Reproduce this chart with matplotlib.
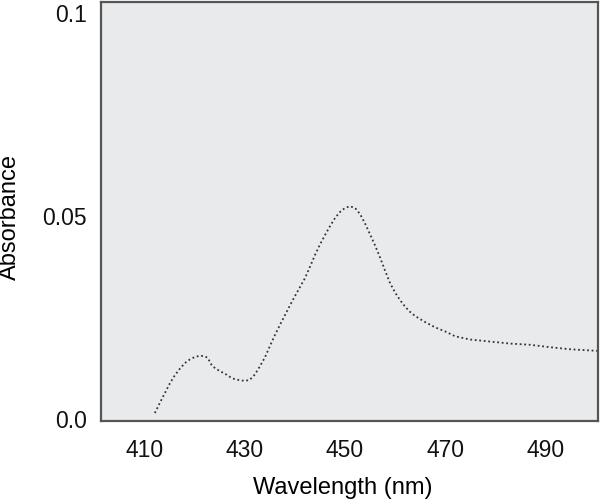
import numpy as np
import matplotlib
matplotlib.use("Agg")
import matplotlib.pyplot as plt

plt.rcParams["font.family"] = ["Liberation Sans", "DejaVu Sans"]

# spectrum (nm, absorbance)
wavelength = [412, 413, 414, 415, 416, 417, 418, 419, 420, 421, 422, 422.6, 423.4, 424,
              425, 426, 427, 428, 429, 430, 431, 432, 433, 434, 435, 436, 437, 438,
              439, 440, 441, 442, 443, 444, 445, 446, 447, 448, 449, 450, 451, 452,
              453, 454, 455, 456, 457, 458, 459, 460, 461, 462, 463, 464, 466, 468,
              470, 472, 475, 479, 483, 487, 491, 495, 500.5]
absorbance = [0.0015, 0.0040, 0.0064, 0.0088, 0.0108, 0.0124, 0.0138, 0.0147, 0.0153, 0.0156,
              0.0155, 0.0150, 0.0132, 0.0126, 0.0118, 0.0112, 0.0104, 0.0098, 0.0096, 0.0094,
              0.0097, 0.0110, 0.0130, 0.0152, 0.0180, 0.0207, 0.0232, 0.0256, 0.0280,
              0.0303, 0.0325, 0.0347, 0.0375, 0.0404, 0.0430, 0.0453, 0.0475, 0.0495,
              0.0510, 0.0520, 0.0524, 0.0520, 0.0505, 0.0482, 0.0455, 0.0428, 0.0398,
              0.0366, 0.0335, 0.0312, 0.0293, 0.0277, 0.0264, 0.0254, 0.0239, 0.0226,
              0.0216, 0.0204, 0.0196, 0.0191, 0.0186, 0.0183, 0.0177, 0.0172, 0.0168]

x_ticks = [410, 430, 450, 470, 490]
y_ticks = [0.0, 0.05, 0.1]
y_tick_labels = ["0.0", "0.05", "0.1"]

fig = plt.figure(figsize=(6.0, 4.99), dpi=100)
ax = fig.add_axes([0.168, 0.156, 0.829, 0.840])
ax.set_facecolor("#e9eaec")

ax.plot(wavelength, absorbance, linestyle=(0, (1, 1.5)), color="#333333", linewidth=1.3)

ax.set_xlim(401.2, 500.6)
ax.set_ylim(-0.0005, 0.1027)
ax.set_xticks(x_ticks)
ax.set_yticks(y_ticks)
ax.set_yticklabels(y_tick_labels)
ax.tick_params(length=0, labelsize=16.5, colors="#111111")
ax.tick_params(axis="x", pad=13)
ax.tick_params(axis="y", pad=10)

for side in ax.spines.values():
    side.set_color("#555555")
    side.set_linewidth(1.6)

ax.set_xlabel("Wavelength (nm)", fontsize=17)
ax.set_ylabel("Absorbance", fontsize=17)
ax.xaxis.set_label_coords(0.487, -0.133)
ax.yaxis.set_label_coords(-0.161, 0.488)

fig.savefig("out.png", dpi=100)
